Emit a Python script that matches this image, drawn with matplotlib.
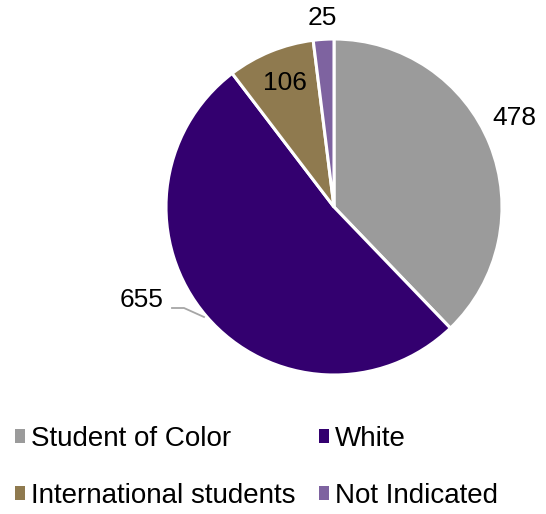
import matplotlib.pyplot as plt
from matplotlib.patches import Patch

categories = ['Student of Color', 'White', 'International students', 'Not Indicated']
counts = [478, 655, 106, 25]
colors = ['#9B9B9B', '#33006F', '#8F7A4F', '#7E63A0']

plt.rcParams['font.family'] = ['Liberation Sans', 'DejaVu Sans']

W, H = 546, 514
fig = plt.figure(figsize=(W / 100, H / 100), dpi=100)
ax = fig.add_axes([0, 0, 1, 1])

cx, cy, R = 334, H - 207, 168
wedges, _ = ax.pie(counts, colors=colors, startangle=90, counterclock=False,
                   center=(cx, cy), radius=R, frame=True,
                   wedgeprops=dict(edgecolor='white', linewidth=2.2))
ax.set_xlim(0, W)
ax.set_ylim(0, H)
ax.set_aspect('equal')
ax.axis('off')

# label spots (pixel coords from top-left)
label_pos = [(514, 118), (142, 300), (285, 83), (322, 18)]
for v, (x, y) in zip(counts, label_pos):
    ax.text(x, H - y, str(v), ha='center', va='center', fontsize=19, color='black')

# leader line for 655
ax.plot([172, 184, 204], [H - 308, H - 308, H - 317], color='#A6A6A6', lw=1.3)

# legend filled row by row like the original
order = [0, 2, 1, 3]
handles = [Patch(facecolor=colors[i], edgecolor='none') for i in order]
labels = [categories[i] for i in order]
fig.legend(handles, labels, ncol=2, loc='lower left', bbox_to_anchor=(15 / W, 5 / H),
           frameon=False, fontsize=20, handlelength=0.36, handleheight=0.36,
           handletextpad=0.22, labelspacing=1.12, columnspacing=0.85,
           borderpad=0, borderaxespad=0)

fig.savefig('out.png', dpi=100)
